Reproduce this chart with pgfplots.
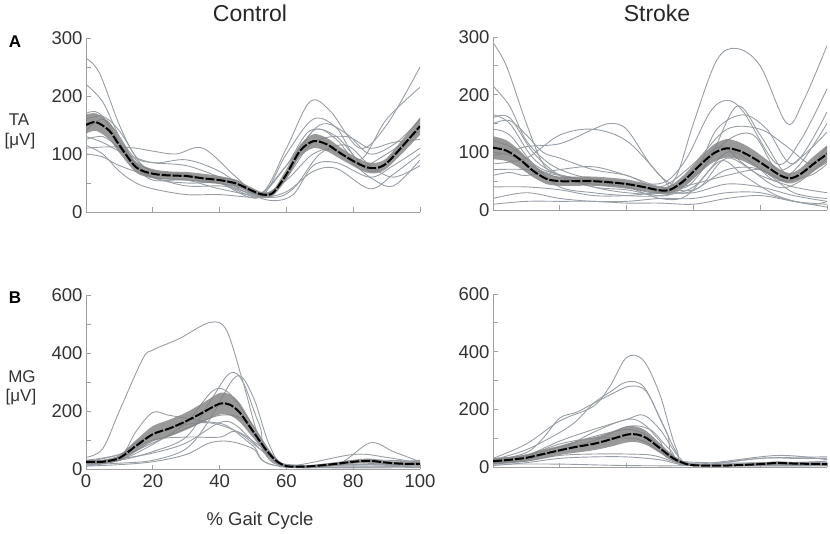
\documentclass[border=0pt]{standalone}
\usepackage{fontspec}
\setmainfont{Liberation Sans}
\usepackage{pgfplots}
\pgfplotsset{compat=1.18}
\usepackage{pgfplotstable}
\definecolor{axgray}{RGB}{160,160,160}
\definecolor{labgray}{RGB}{50,50,50}
\definecolor{curvegray}{RGB}{152,158,166}
\definecolor{bandgray}{RGB}{128,128,128}

\pgfplotstableread{
x y lo hi
0 150 135 168
3 155 140 170
7 140 125 155
10 115 102 128
15 77 68 87
20 66 58 74
25 63 56 70
30 62 55 69
35 58 51 66
40 55 48 62
45 49 43 55
50 36 31 41
53 30 26 34
56 33 28 38
60 65 56 74
64 105 95 115
68 122 110 134
72 117 105 128
76 102 92 112
80 88 79 97
84 77 68 86
87 76 67 85
90 84 75 93
95 115 103 127
100 148 133 163
}\taC
\pgfplotstableread{
x y lo hi
0 108 88 128
4 103 85 121
8 88 73 103
12 68 57 79
16 54 45 63
20 50 42 58
25 50 42 58
30 50 42 58
35 48 40 56
40 45 37 53
45 40 33 47
50 34 28 40
53 35 28 42
57 50 40 60
62 78 65 91
66 98 83 113
70 107 91 123
74 102 87 117
78 90 76 104
82 75 63 87
86 60 50 70
89 55 46 64
92 62 52 72
96 80 67 93
100 97 82 112
}\taS
\pgfplotstableread{
x y lo hi
0 25 18 32
5 25 18 32
10 38 28 48
15 80 60 100
20 120 95 148
25 140 112 170
30 165 135 195
35 195 162 228
40 225 188 262
43 222 185 258
46 195 162 228
50 130 108 152
54 65 52 78
57 28 20 36
60 10 5 15
65 8 4 12
70 12 7 17
75 18 12 24
80 25 18 32
85 28 20 36
90 22 16 28
95 18 12 24
100 18 12 24
}\mgC
\pgfplotstableread{
x y lo hi
0 20 10 30
5 25 15 35
10 32 20 44
15 45 30 60
20 58 42 74
25 70 50 90
30 80 58 102
35 95 70 120
40 112 85 140
43 113 86 140
46 100 76 124
50 65 48 82
54 30 20 40
58 10 5 15
62 5 2 8
70 5 2 8
80 10 5 15
85 14 8 20
90 12 7 17
100 10 5 15
}\mgS

\pgfplotsset{
  emg/.style={scale only axis, width=334pt, height=174pt, anchor=south west,
    axis x line=bottom, axis y line=left,
    axis line style={axgray, line width=0.9pt, -},
    tick style={axgray, line width=0.9pt}, tick align=inside,
    major tick length=4.5pt, minor tick length=4.5pt,
    xmin=0, xmax=100, xtick={0,20,...,100}, ymin=0,
    ticklabel style={font=\fontsize{18.5}{18.5}\selectfont, text=labgray},
    xticklabel style={yshift=-2pt},
    /pgf/number format/assume math mode=true,
  },
  gc/.style={curvegray, line width=0.9pt, smooth, tension=0.55, no marks},
  meanl/.style={black, line width=2pt, smooth, no marks, dash pattern=on 9pt off 2pt},
}

\newcommand{\band}[1]{%
  \addplot[draw=none, no marks, smooth, stack plots=y, forget plot] table[x=x,y=lo]{#1};
  \addplot[draw=none, no marks, smooth, fill=bandgray, fill opacity=0.8, stack plots=y, forget plot]
     table[x=x, y expr=\thisrow{hi}-\thisrow{lo}]{#1} \closedcycle;
  \addplot[meanl] table[x=x,y=y]{#1};
}

\begin{document}
\begin{tikzpicture}
\path[use as bounding box] (0,0) rectangle (830pt,533pt);

% ---------- A Control ----------
\begin{axis}[emg, at={(86pt,321pt)}, ymax=300, ytick={0,100,200,300}, minor ytick={50,150,250}, xticklabels={}]
\addplot[gc] coordinates {(0,265)(4,240)(10,150)(15,95)(20,85)(30,80)(40,60)(52,30)(60,110)(67,190)(73,175)(82,110)(90,150)(100,250)};
\addplot[gc] coordinates {(0,220)(5,190)(10,130)(15,90)(20,70)(30,65)(40,50)(52,25)(60,100)(68,160)(75,145)(82,90)(90,160)(100,215)};
\addplot[gc] coordinates {(0,110)(5,112)(10,112)(15,110)(20,105)(27,100)(35,110)(45,60)(52,30)(60,80)(67,140)(75,130)(85,70)(92,100)(100,145)};
\addplot[gc] coordinates {(0,130)(5,120)(10,105)(20,85)(30,90)(40,70)(52,28)(60,60)(68,120)(78,130)(85,110)(92,120)(100,125)};
\addplot[gc] coordinates {(0,170)(4,170)(10,120)(15,80)(20,60)(30,55)(40,50)(52,25)(60,60)(68,140)(75,125)(82,80)(90,100)(100,140)};
\addplot[gc] coordinates {(0,115)(5,100)(10,70)(15,50)(20,40)(30,30)(40,30)(52,25)(60,35)(68,70)(75,75)(85,40)(92,65)(100,100)};
\addplot[gc] coordinates {(0,100)(5,95)(10,80)(20,60)(30,45)(40,45)(45,40)(55,20)(62,30)(68,80)(75,85)(85,60)(92,80)(100,110)};
\addplot[gc] coordinates {(0,140)(5,160)(10,130)(15,80)(20,55)(30,55)(40,40)(55,25)(62,40)(70,100)(78,115)(85,80)(92,60)(100,80)};
\addplot[gc] coordinates {(0,125)(5,130)(10,110)(20,60)(30,50)(40,50)(52,30)(60,55)(68,100)(75,105)(85,60)(92,45)(100,90)};
\addplot[gc] coordinates {(0,160)(5,165)(10,140)(17,80)(25,65)(35,60)(45,55)(52,32)(60,80)(70,150)(78,135)(85,100)(93,120)(100,160)};
\band{\taC}
\end{axis}

% ---------- A Stroke ----------
\begin{axis}[emg, at={(493pt,323pt)}, height=173pt, ymax=300, ytick={0,100,200,300}, minor ytick={50,150,250}, xticklabels={}]
\addplot[gc] coordinates {(0,290)(4,250)(10,150)(15,80)(20,60)(30,40)(40,30)(50,30)(55,60)(60,150)(67,260)(73,280)(80,250)(88,150)(93,190)(100,285)};
\addplot[gc] coordinates {(0,215)(5,180)(10,120)(17,80)(25,60)(35,50)(45,45)(52,50)(58,90)(65,170)(70,190)(75,170)(85,80)(92,120)(100,210)};
\addplot[gc] coordinates {(0,165)(5,150)(12,90)(20,60)(30,50)(40,40)(50,30)(60,60)(67,140)(75,165)(82,140)(90,80)(100,170)};
\addplot[gc] coordinates {(0,150)(5,155)(10,130)(15,100)(20,90)(30,70)(40,60)(50,40)(60,80)(70,140)(80,140)(88,110)(95,80)(100,100)};
\addplot[gc] coordinates {(0,95)(5,100)(10,110)(20,115)(30,140)(35,150)(40,140)(47,80)(52,50)(58,40)(65,90)(73,180)(80,130)(88,60)(95,60)(100,80)};
\addplot[gc] coordinates {(0,80)(10,90)(20,130)(30,140)(40,120)(50,60)(55,30)(62,40)(70,90)(80,60)(90,40)(100,30)};
\addplot[gc] coordinates {(0,60)(5,65)(10,60)(20,70)(30,75)(40,60)(50,40)(60,35)(70,70)(80,70)(90,30)(100,20)};
\addplot[gc] coordinates {(0,40)(10,40)(20,35)(30,25)(40,25)(50,30)(60,30)(70,45)(80,40)(90,25)(100,15)};
\addplot[gc] coordinates {(0,20)(10,30)(20,20)(30,15)(40,15)(50,20)(60,20)(70,30)(80,30)(90,15)(100,10)};
\addplot[gc] coordinates {(0,10)(10,15)(20,15)(30,15)(40,12)(50,12)(60,10)(70,20)(80,25)(90,15)(100,5)};
\addplot[gc] coordinates {(0,120)(5,110)(10,90)(15,70)(25,55)(35,50)(45,40)(52,30)(60,70)(68,110)(75,80)(85,40)(92,50)(100,90)};
\addplot[gc] coordinates {(0,140)(5,130)(12,80)(20,40)(30,30)(40,25)(50,25)(60,40)(70,100)(78,80)(85,50)(92,80)(100,150)};
\addplot[gc] coordinates {(0,100)(5,95)(12,75)(20,55)(30,45)(40,40)(50,20)(58,25)(68,85)(75,60)(85,25)(95,10)(100,15)};
\addplot[gc] coordinates {(0,70)(10,70)(20,60)(30,50)(40,45)(50,35)(60,45)(70,60)(80,70)(88,50)(95,75)(100,110)};
\addplot[gc] coordinates {(0,160)(5,160)(12,100)(20,60)(30,40)(40,35)(52,25)(60,55)(70,120)(78,130)(85,70)(92,90)(100,135)};
\band{\taS}
\end{axis}

% ---------- B Control ----------
\begin{axis}[emg, at={(86pt,64pt)}, ymax=600, ytick={0,200,400,600}, minor ytick={100,300,500}]
\addplot[gc] coordinates {(0,40)(5,70)(10,200)(17,380)(20,410)(28,450)(37,505)(42,480)(47,300)(52,100)(57,20)(62,10)(80,15)(100,15)};
\addplot[gc] coordinates {(0,15)(10,40)(15,130)(20,195)(25,185)(35,165)(42,150)(50,80)(58,10)(100,10)};
\addplot[gc] coordinates {(0,20)(10,30)(20,60)(30,110)(37,230)(43,330)(47,300)(52,150)(58,20)(100,15)};
\addplot[gc] coordinates {(0,15)(10,20)(20,30)(30,70)(37,170)(45,320)(50,250)(55,80)(60,10)(75,15)(85,90)(92,60)(100,25)};
\addplot[gc] coordinates {(0,10)(10,15)(20,25)(30,50)(37,90)(43,95)(50,70)(58,10)(100,5)};
\addplot[gc] coordinates {(0,30)(10,50)(20,100)(30,110)(40,110)(45,130)(52,80)(60,15)(100,20)};
\addplot[gc] coordinates {(0,25)(10,35)(20,55)(30,90)(40,160)(45,150)(53,60)(60,10)(80,50)(90,40)(100,20)};
\addplot[gc] coordinates {(0,10)(10,30)(20,85)(30,160)(38,270)(43,260)(50,150)(57,30)(62,5)(100,10)};
\addplot[gc] coordinates {(0,20)(10,40)(20,90)(30,140)(40,185)(47,170)(53,80)(60,10)(100,30)};
\addplot[gc] coordinates {(0,25)(10,50)(15,90)(25,140)(36,160)(45,130)(52,70)(60,10)(85,30)(100,25)};
\band{\mgC}
\end{axis}

% ---------- B Stroke ----------
\begin{axis}[emg, at={(493pt,66pt)}, height=173pt, ymax=600, ytick={0,200,400,600}, minor ytick={100,300,500}, xticklabels={}]
\addplot[gc] coordinates {(0,30)(10,80)(20,160)(30,210)(35,280)(40,380)(45,370)(50,250)(55,60)(60,10)(100,5)};
\addplot[gc] coordinates {(0,25)(10,60)(20,120)(25,160)(30,220)(35,260)(40,295)(45,280)(50,170)(55,50)(60,10)(100,10)};
\addplot[gc] coordinates {(0,20)(10,50)(15,100)(20,170)(25,190)(30,220)(35,250)(41,280)(46,260)(52,120)(58,15)(100,5)};
\addplot[gc] coordinates {(0,15)(10,40)(20,90)(30,130)(40,165)(45,180)(50,130)(56,30)(62,5)(100,10)};
\addplot[gc] coordinates {(0,20)(10,30)(20,60)(30,120)(40,165)(45,150)(50,90)(56,20)(100,15)};
\addplot[gc] coordinates {(0,25)(10,40)(20,80)(30,100)(40,100)(45,90)(52,40)(60,5)(80,30)(90,30)(100,30)};
\addplot[gc] coordinates {(0,10)(10,20)(20,40)(30,45)(40,45)(48,40)(55,15)(60,5)(100,5)};
\addplot[gc] coordinates {(0,5)(10,15)(20,30)(30,35)(40,35)(50,25)(60,5)(80,30)(100,35)};
\addplot[gc] coordinates {(0,10)(20,10)(40,5)(60,5)(80,15)(100,10)};
\addplot[gc] coordinates {(0,15)(10,25)(20,60)(30,90)(40,140)(47,130)(53,60)(60,10)(100,20)};
\addplot[gc] coordinates {(0,30)(10,40)(20,70)(30,105)(40,130)(46,110)(52,50)(60,10)(85,40)(100,25)};
\band{\mgS}
\end{axis}

% ---------- texts ----------
\node[font=\fontsize{23}{23}\selectfont, text=black!85] at (250pt,520pt) {Control};
\node[font=\fontsize{23}{23}\selectfont, text=black!85] at (657pt,520pt) {Stroke};
\node[font=\fontsize{17}{17}\selectfont\bfseries] at (15pt,491pt) {A};
\node[font=\fontsize{17}{17}\selectfont\bfseries] at (15pt,235pt) {B};
\node[font=\fontsize{17}{17}\selectfont, text=labgray] at (19pt,413pt) {TA};
\node[font=\fontsize{17}{17}\selectfont, text=labgray] at (20pt,392pt) {[μV]};
\node[font=\fontsize{17}{17}\selectfont, text=labgray] at (22pt,156pt) {MG};
\node[font=\fontsize{17}{17}\selectfont, text=labgray] at (21pt,136pt) {[μV]};
\node[font=\fontsize{18.5}{18.5}\selectfont, text=labgray] at (260pt,12pt) {\% Gait Cycle};
\end{tikzpicture}
\end{document}
